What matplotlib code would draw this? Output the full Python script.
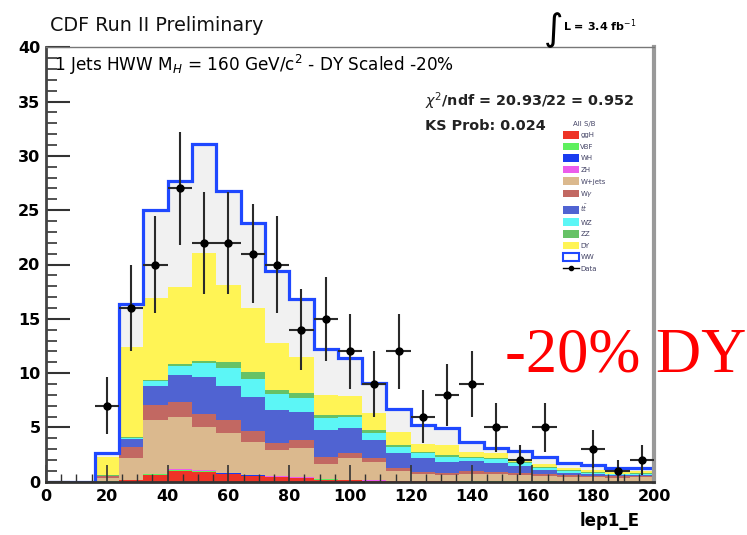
import numpy as np
import matplotlib
matplotlib.use("Agg")
import matplotlib.pyplot as plt
from matplotlib.patches import Patch
from matplotlib.lines import Line2D
from matplotlib.ticker import MultipleLocator

# lep1_E binning: 25 bins of 8 GeV from 0 to 200
edges = np.arange(0, 201, 8)

# expected events per bin, stacked bottom -> top
ggH = [0, 0, 0.00, 0.15, 0.62, 0.95, 0.90, 0.68, 0.50, 0.40, 0.30, 0.20, 0.12,
       0.08, 0.05, 0.03, 0.02, 0.01, 0.01, 0.01, 0.01, 0, 0, 0, 0]
VBF = [0, 0, 0.03, 0.03, 0.08, 0.10, 0.08, 0.06, 0.05, 0.04, 0.04, 0.03, 0.03,
       0.02, 0.02, 0.02, 0.01, 0.01, 0.01, 0.01, 0.01, 0.01, 0.01, 0, 0]
WH = [0, 0, 0, 0.01, 0.03, 0.05, 0.04, 0.03, 0.03, 0.03, 0.03, 0.02, 0.02,
      0.01, 0.01, 0.01, 0, 0, 0, 0, 0, 0, 0, 0, 0]
ZH = [0, 0, 0, 0.01, 0.02, 0.05, 0.05, 0.04, 0.03, 0.03, 0.03, 0.02, 0.02,
      0.01, 0.01, 0.01, 0, 0, 0, 0, 0, 0, 0, 0, 0]
Wjets = [0, 0, 0.32, 1.95, 4.93, 4.78, 3.93, 3.64, 3.01, 2.40, 2.67, 1.33, 1.96,
         1.72, 0.91, 0.61, 0.57, 0.70, 0.65, 0.60, 0.50, 0.45, 0.40, 0.38, 0.40]
Wgamma = [0, 0, 0.15, 1.00, 1.38, 1.44, 1.23, 1.23, 1.08, 0.70, 0.77, 0.70, 0.45,
          0.31, 0.23, 0.24, 0.20, 0.23, 0.23, 0.18, 0.15, 0.12, 0.10, 0.10, 0.10]
ttbar = [0, 0, 0.05, 0.75, 1.74, 2.46, 3.44, 3.16, 3.13, 3.00, 2.56, 2.46, 2.30,
         1.69, 1.37, 1.23, 1.04, 1.00, 0.85, 0.65, 0.38, 0.22, 0.19, 0.12, 0.12]
WZ = [0, 0, 0.01, 0.15, 0.45, 0.82, 1.23, 1.66, 1.63, 1.47, 1.30, 1.08, 1.03,
      0.66, 0.60, 0.45, 0.40, 0.25, 0.30, 0.25, 0.20, 0.15, 0.12, 0.10, 0.10]
ZZ = [0, 0, 0.04, 0.05, 0.10, 0.20, 0.24, 0.50, 0.61, 0.37, 0.50, 0.26, 0.21,
      0.26, 0.18, 0.16, 0.22, 0.10, 0.15, 0.10, 0.10, 0.10, 0.08, 0.05, 0.08]
DY = [0, 0, 1.70, 8.30, 7.55, 7.05, 9.96, 7.10, 5.93, 4.36, 3.25, 1.90, 1.76,
      1.54, 1.22, 0.74, 0.92, 0.45, 0.40, 0.30, 0.25, 0.20, 0.15, 0.15, 0.15]
WW = [0, 0, 0.30, 4.00, 8.10, 9.80, 10.00, 8.70, 7.80, 6.60, 5.35, 4.20, 3.50,
      2.75, 2.10, 1.70, 1.52, 0.95, 0.50, 0.75, 0.70, 0.50, 0.45, 0.40, 0.35]

# observed events
data = [0, 0, 7, 16, 20, 27, 22, 22, 21, 20, 14, 15, 12, 9, 12, 6, 8, 9, 5, 2,
        5, 0, 3, 1, 2]

names = ["ggH", "VBF", "WH", "ZH", "W+jets", r"W$\gamma$", r"$t\bar{t}$",
         "WZ", "ZZ", "DY", "WW"]
samples = [ggH, VBF, WH, ZH, Wjets, Wgamma, ttbar, WZ, ZZ, DY, WW]
colors = ["#ee3326", "#5ef05e", "#1a3cf0", "#ec5cec", "#dbb98e", "#c26862",
          "#5063d2", "#5cf6f6", "#66c266", "#fff455", "#f1f1f1"]

fig = plt.figure(figsize=(7.47, 5.35), dpi=100)
ax = fig.add_axes([46 / 747, 53.3 / 535, 608 / 747, 434.4 / 535])

# stacked histogram
base = np.zeros(len(edges) - 1)
for vals, col in zip(samples, colors):
    top = base + np.array(vals)
    ax.stairs(top, edges, baseline=base, fill=True, color=col, lw=0)
    base = top
ax.stairs(base, edges, baseline=0, color="#1f48ff", lw=2.3)

# data points with poisson errors
centers = 0.5 * (edges[:-1] + edges[1:])
d = np.array(data, dtype=float)
m = d > 0
ax.errorbar(centers[m], d[m], yerr=np.sqrt(d[m]), xerr=4, fmt="o",
            color="black", ms=5, ecolor="#2a2a2a", elinewidth=1.5, capsize=0,
            zorder=5)

ax.set_xlim(0, 200)
ax.set_ylim(0, 40)
ax.xaxis.set_major_locator(MultipleLocator(20))
ax.xaxis.set_minor_locator(MultipleLocator(5))
ax.yaxis.set_major_locator(MultipleLocator(5))
ax.yaxis.set_minor_locator(MultipleLocator(1))
ax.tick_params(axis="both", which="both", direction="in", colors="#333333",
               labelcolor="black")
ax.tick_params(axis="y", which="major", length=17, width=1.5, pad=4)
ax.tick_params(axis="y", which="minor", length=8, width=1.2)
ax.tick_params(axis="x", which="major", length=12, width=1.2, pad=5)
ax.tick_params(axis="x", which="minor", length=6, width=1.0)
for lab in ax.get_xticklabels() + ax.get_yticklabels():
    lab.set_fontfamily("DejaVu Sans")
    lab.set_fontweight("bold")
    lab.set_fontsize(11.5)

ax.spines["left"].set_color("#444444")
ax.spines["left"].set_linewidth(2)
ax.spines["bottom"].set_color("#333333")
ax.spines["bottom"].set_linewidth(2)
ax.spines["top"].set_color("#777777")
ax.spines["top"].set_linewidth(1)
ax.spines["right"].set_color("#999999")
ax.spines["right"].set_linewidth(3)

fig.text(50 / 747, 1 - 31 / 535, "CDF Run II Preliminary", fontsize=13.8,
         family="DejaVu Sans", va="baseline", ha="left", color="#111111")
fig.text(543 / 747, 1 - 40 / 535, r"$\int$", fontsize=19, va="baseline",
         ha="left")
fig.text(563 / 747, 1 - 31 / 535, r"L = 3.4 fb$^{-1}$", fontsize=8,
         family="DejaVu Sans", weight="bold", va="baseline", ha="left")
fig.text(54 / 747, 1 - 71 / 535,
         r"1 Jets HWW M$_H$ = 160 GeV/c$^2$ - DY Scaled -20%", fontsize=12.2,
         family="DejaVu Sans", va="baseline", ha="left")
fig.text(425 / 747, 1 - 106 / 535, r"$\chi^2$/ndf = 20.93/22 = 0.952",
         fontsize=10.4, family="DejaVu Sans", weight="bold", va="baseline",
         ha="left", color="#222222")
fig.text(425 / 747, 1 - 130 / 535, "KS Prob: 0.024", fontsize=10.4,
         family="DejaVu Sans", weight="bold", va="baseline", ha="left",
         color="#222222")
fig.text(640 / 747, 1 - 526 / 535, "lep1_E", fontsize=12,
         family="DejaVu Sans", weight="bold", va="baseline", ha="right")
fig.text(505 / 747, 1 - 372 / 535, "-20% DY", fontsize=45,
         family="Liberation Serif", color="#ff0000", va="baseline", ha="left")

# legend
handles = [Patch(facecolor=c, edgecolor="none") for c in colors[:-1]]
handles.append(Patch(facecolor="white", edgecolor="#1f48ff", lw=1.5))
handles.append(Line2D([], [], color="black", marker="o", ms=3, lw=1))
leg = ax.legend(handles, names + ["Data"], title="All S/B", loc="upper left",
                bbox_to_anchor=(563 / 747, 1 - 121 / 535),
                bbox_transform=fig.transFigure, frameon=False, fontsize=5,
                title_fontsize=5, handlelength=2.3, handleheight=1.3,
                labelspacing=0.58, handletextpad=0.2, borderpad=0,
                borderaxespad=0)
for t in leg.get_texts():
    t.set_color("#444466")
leg.get_title().set_color("#444466")

fig.savefig("out.png", dpi=100)
